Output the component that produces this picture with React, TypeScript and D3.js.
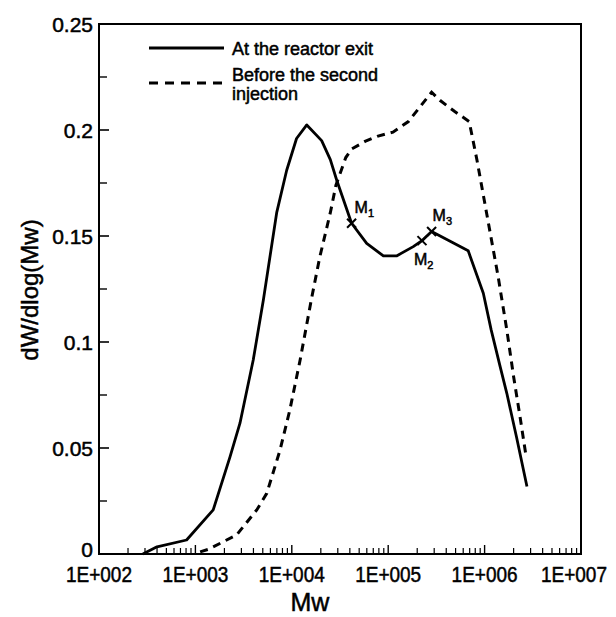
import React from "react";
import * as d3 from "d3";

// Solid curve: "At the reactor exit"
const exitMw = [285, 400, 810, 1530, 2290, 2900, 3980, 5070, 6970, 8850, 11200, 14300, 20400, 25100, 29200, 41700, 59800, 89100, 122000, 182000, 224000, 282000, 676000, 970000, 1170000, 1450000, 1700000, 2140000, 2750000];
const exitVal = [0, 0.0034, 0.0066, 0.0208, 0.0459, 0.0617, 0.0915, 0.1198, 0.161, 0.181, 0.196, 0.2024, 0.195, 0.186, 0.1764, 0.156, 0.1465, 0.1406, 0.1406, 0.145, 0.1478, 0.1521, 0.143, 0.123, 0.1057, 0.0884, 0.0758, 0.0553, 0.0318];

// Dashed curve: "Before the second injection"
const beforeMw = [1120, 1360, 1950, 2680, 4330, 5500, 7550, 9550, 12200, 16100, 19500, 25100, 28700, 36300, 41700, 57500, 76900, 112000, 162000, 282000, 344000, 490000, 692000, 832000, 1047000, 1380000, 1700000, 2000000, 2330000, 2690000];
const beforeVal = [0.001, 0.0022, 0.0058, 0.009, 0.0208, 0.0286, 0.049, 0.068, 0.0915, 0.121, 0.14, 0.161, 0.174, 0.187, 0.191, 0.1946, 0.197, 0.199, 0.204, 0.2178, 0.214, 0.2087, 0.204, 0.186, 0.161, 0.131, 0.1057, 0.0836, 0.0648, 0.0462];

// Marked points M1, M2, M3
const markNames = ["1", "2", "3"];
const markMw = [41700, 224000, 282000];
const markVal = [0.156, 0.1478, 0.1521];

const xTickValues = [1e2, 1e3, 1e4, 1e5, 1e6, 1e7];
const xTickLabels = ["1E+002", "1E+003", "1E+004", "1E+005", "1E+006", "1E+007"];
const yTickValues = [0, 0.05, 0.1, 0.15, 0.2, 0.25];
const yTickLabels = ["0", "0.05", "0.1", "0.15", "0.2", "0.25"];
const yMinorValues = [0.025, 0.075, 0.125, 0.175, 0.225];

const legendLabels = ["At the reactor exit", "Before the second", "injection"];

const FONT = "'Liberation Sans', Arial, Helvetica, sans-serif";
const TS = { stroke: "#000", strokeWidth: 0.5 };

export default function App() {
  const left = 99, right = 581, top = 24, bottom = 554;
  const x = d3.scaleLog().domain([1e2, 1e7]).range([left, right]);
  const y = d3.scaleLinear().domain([0, 0.25]).range([bottom, top]);

  const line = d3
    .line<[number, number]>()
    .x((d) => x(d[0]))
    .y((d) => y(d[1]))
    .curve(d3.curveLinear);

  const exitPath = line(exitMw.map((m, i) => [m, exitVal[i]]) as [number, number][]) || "";
  const beforePath = line(beforeMw.map((m, i) => [m, beforeVal[i]]) as [number, number][]) || "";

  const minorX: number[] = [];
  for (let d = 2; d <= 6; d++) {
    for (let k = 2; k <= 9; k++) minorX.push(k * Math.pow(10, d));
  }

  const labelOffsets = [
    { dx: 3, dy: -10 },
    { dx: -8, dy: 24 },
    { dx: 1, dy: -11 },
  ];

  return (
    <div style={{ position: "fixed", left: 0, top: 0 }}>
      <svg width={616} height={617} style={{ display: "block", background: "#fff" }}>
        <rect x={0} y={0} width={616} height={617} fill="#fff" />
        {/* minor x ticks */}
        {minorX.map((v, i) => (
          <line key={"mx" + i} x1={x(v)} x2={x(v)} y1={bottom} y2={bottom - 6} stroke="#000" strokeWidth={1.2} />
        ))}
        {xTickValues.slice(1, -1).map((v, i) => (
          <line key={"Mx" + i} x1={x(v)} x2={x(v)} y1={bottom} y2={bottom - 9} stroke="#000" strokeWidth={1.4} />
        ))}
        {/* y ticks */}
        {yTickValues.slice(1, -1).map((v, i) => (
          <line key={"My" + i} x1={left} x2={left + 10} y1={y(v)} y2={y(v)} stroke="#000" strokeWidth={1.6} />
        ))}
        {yMinorValues.map((v, i) => (
          <line key={"my" + i} x1={left} x2={left + 8} y1={y(v)} y2={y(v)} stroke="#000" strokeWidth={1.4} />
        ))}
        {/* frame */}
        <rect x={left} y={top} width={right - left} height={bottom - top} fill="none" stroke="#000" strokeWidth={2} />

        {/* curves */}
        <path d={beforePath} fill="none" stroke="#000" strokeWidth={3} strokeDasharray="8 6" />
        <path d={exitPath} fill="none" stroke="#000" strokeWidth={2.8} strokeLinejoin="round" />

        {/* markers */}
        {markMw.map((m, i) => {
          const cx = x(m), cy = y(markVal[i]);
          const s = 4.5;
          return (
            <g key={"mk" + i}>
              <line x1={cx - s} y1={cy - s} x2={cx + s} y2={cy + s} stroke="#000" strokeWidth={2} />
              <line x1={cx - s} y1={cy + s} x2={cx + s} y2={cy - s} stroke="#000" strokeWidth={2} />
              <text x={cx + labelOffsets[i].dx} y={cy + labelOffsets[i].dy} fontFamily={FONT} fontSize={16} fill="#000" {...TS}>
                M<tspan fontSize={11} dy={4}>{markNames[i]}</tspan>
              </text>
            </g>
          );
        })}

        {/* x tick labels */}
        {xTickValues.map((v, i) => (
          <text key={"xl" + i} x={Math.min(x(v), 574)} y={582} textAnchor="middle" fontFamily={FONT} fontSize={22}
            textLength={66} lengthAdjust="spacingAndGlyphs" fill="#000" {...TS}>
            {xTickLabels[i]}
          </text>
        ))}
        {/* y tick labels */}
        {yTickValues.map((v, i) => (
          <text key={"yl" + i} x={93} y={i === 0 ? 557 : y(v) + 8} textAnchor="end" fontFamily={FONT} fontSize={21} fill="#000" {...TS}>
            {yTickLabels[i]}
          </text>
        ))}

        {/* axis titles */}
        <text x={310} y={611} textAnchor="middle" fontFamily={FONT} fontSize={25} fill="#000" {...TS}>Mw</text>
        <text transform="translate(38,290) rotate(-90)" textAnchor="middle" fontFamily={FONT} fontSize={24} fill="#000" {...TS}>
          dW/dlog(Mw)
        </text>

        {/* legend */}
        <line x1={149} x2={224} y1={48} y2={48} stroke="#000" strokeWidth={2.8} />
        <text x={232} y={55} fontFamily={FONT} fontSize={18} fill="#000" {...TS}>{legendLabels[0]}</text>
        <line x1={149} x2={224} y1={83} y2={83} stroke="#000" strokeWidth={3} strokeDasharray="9 7" />
        <text x={232} y={81} fontFamily={FONT} fontSize={18} fill="#000" {...TS}>{legendLabels[1]}</text>
        <text x={232} y={100} fontFamily={FONT} fontSize={18} fill="#000" {...TS}>{legendLabels[2]}</text>
      </svg>
    </div>
  );
}
